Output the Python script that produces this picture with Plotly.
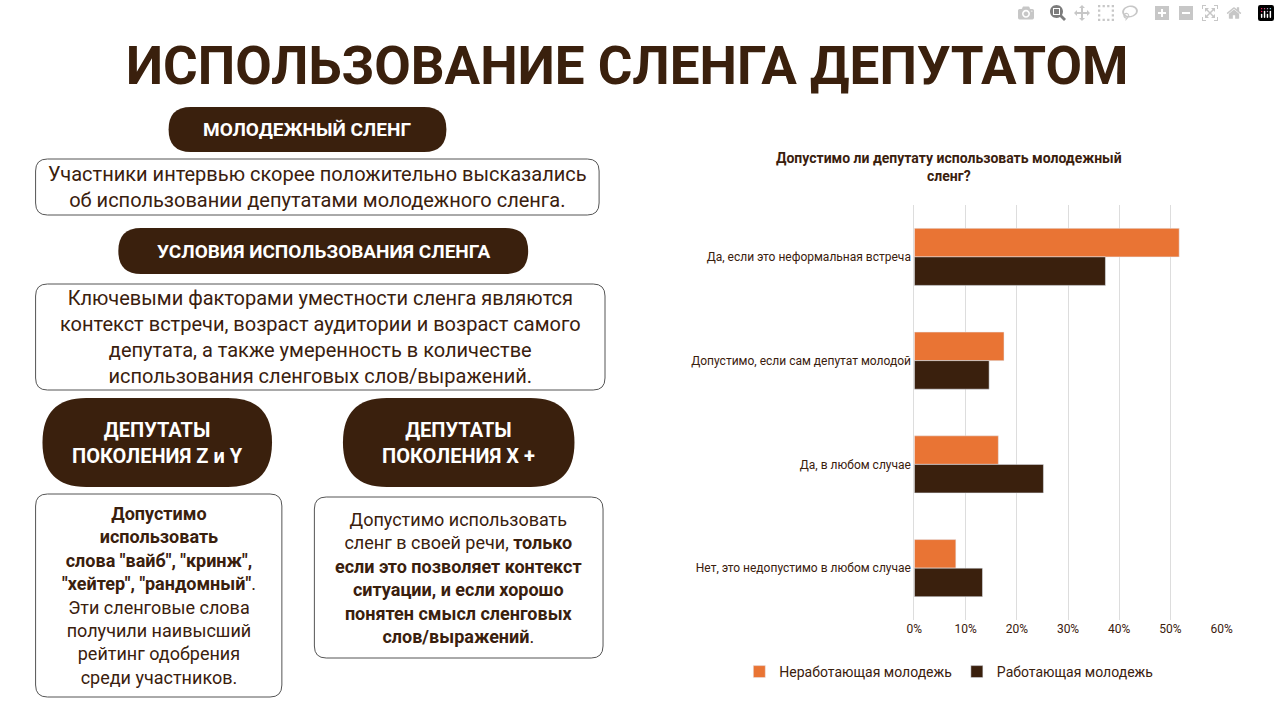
import plotly.graph_objects as go

categories = ["Да, если это неформальная встреча", "Допустимо, если сам депутат молодой",
              "Да, в любом случае", "Нет, это недопустимо в любом случае"]
nonworking = [51.7, 17.5, 16.4, 8.1]
working = [37.3, 14.6, 25.2, 13.3]
series_names = ["Неработающая молодежь", "Работающая молодежь"]
tick_vals = [0, 10, 20, 30, 40, 50, 60]
tick_text = ["0%", "10%", "20%", "30%", "40%", "50%", "60%"]

W, H = 1280, 720
DARK = "#3a200d"
ORANGE = "#e97434"
FONT = "Roboto"

def px(x): return x / W
def py(y): return 1 - y / H

def rrect(x0, y0, x1, y1, r):
    pts = [
        f"M {px(x0+r)},{py(y0)}", f"L {px(x1-r)},{py(y0)}", f"Q {px(x1)},{py(y0)} {px(x1)},{py(y0+r)}",
        f"L {px(x1)},{py(y1-r)}", f"Q {px(x1)},{py(y1)} {px(x1-r)},{py(y1)}",
        f"L {px(x0+r)},{py(y1)}", f"Q {px(x0)},{py(y1)} {px(x0)},{py(y1-r)}",
        f"L {px(x0)},{py(y0+r)}", f"Q {px(x0)},{py(y0)} {px(x0+r)},{py(y0)}", "Z"]
    return " ".join(pts)

fig = go.Figure()
fig.add_trace(go.Bar(y=categories, x=nonworking, orientation="h", name=series_names[0], marker_color=ORANGE))
fig.add_trace(go.Bar(y=categories, x=working, orientation="h", name=series_names[1], marker_color=DARK))

shapes = []
annotations = []

def label(x, y, text, size, color, **kw):
    annotations.append(dict(x=px(x), y=py(y), xref="paper", yref="paper", xanchor="center", yanchor="middle",
                            text=text, showarrow=False, font=dict(family=FONT, size=size, color=color),
                            align="center", **kw))

def pill(x0, y0, x1, y1, text, size=19):
    r = min((y1 - y0) / 2, (x1 - x0) / 2)
    shapes.append(dict(type="path", path=rrect(x0, y0, x1, y1, r), xref="paper", yref="paper",
                       fillcolor=DARK, line=dict(width=0), layer="below"))
    label((x0 + x1) / 2, (y0 + y1) / 2, text, size, "white")

def box(x0, y0, x1, y1, text, size=19):
    shapes.append(dict(type="path", path=rrect(x0, y0, x1, y1, 12), xref="paper", yref="paper",
                       fillcolor="white", line=dict(color="#555555", width=1), layer="below"))
    label((x0 + x1) / 2, (y0 + y1) / 2, text, size, DARK)

pill(163, 107, 445, 152, "<b>МОЛОДЕЖНЫЙ СЛЕНГ</b>", 19)
box(28, 159, 600, 215, "Участники интервью скорее положительно высказались<br>об использовании депутатами молодежного сленга.", 20)
pill(112, 228, 528, 274, "<b>УСЛОВИЯ ИСПОЛЬЗОВАНИЯ СЛЕНГА</b>", 19)
box(28, 284, 606, 390, "Ключевыми факторами уместности сленга являются<br>контекст встречи, возраст аудитории и возраст самого<br>депутата, а также умеренность в количестве<br>использования сленговых слов/выражений.", 20)
pill(35, 398, 268, 487, "<b>ДЕПУТАТЫ</b><br><b>ПОКОЛЕНИЯ Z и Y</b>", 20)
pill(340, 398, 575, 487, "<b>ДЕПУТАТЫ</b><br><b>ПОКОЛЕНИЯ X +</b>", 20)
box(28, 494, 278, 697, "<b>Допустимо</b><br><b>использовать</b><br><b>слова \"вайб\", \"кринж\",</b><br><b>\"хейтер\", \"рандомный\"</b>.<br>Эти сленговые слова<br>получили наивысший<br>рейтинг одобрения<br>среди участников.", 18)
box(311, 497, 604, 658, "Допустимо использовать<br>сленг в своей речи, <b>только</b><br><b>если это позволяет контекст</b><br><b>ситуации, и если хорошо</b><br><b>понятен смысл сленговых</b><br><b>слов/выражений</b>.", 18)

label(628, 66, "<b>ИСПОЛЬЗОВАНИЕ СЛЕНГА ДЕПУТАТОМ</b>", 53, DARK)
label(955, 167, "<b>Допустимо ли депутату использовать молодежный<br>сленг?</b>", 14, DARK)

fig.update_layout(
    width=W, height=H, margin=dict(l=0, r=0, t=0, b=0),
    paper_bgcolor="white", plot_bgcolor="white",
    barmode="group", bargap=0.45, bargroupgap=0,
    shapes=shapes, annotations=annotations,
    font=dict(family=FONT, color=DARK),
    xaxis=dict(domain=[px(920), px(1232)], range=[0, 60], tickvals=tick_vals, ticktext=tick_text,
               showgrid=True, gridcolor="#dddddd", zeroline=False, tickfont=dict(size=12, color=DARK),
               ticks="", anchor="y"),
    yaxis=dict(domain=[py(620), py(205)], autorange="reversed", categoryorder="array", categoryarray=categories,
               tickfont=dict(size=12, color=DARK), ticks="", showline=True, linecolor="#dddddd"),
    legend=dict(orientation="h", x=px(955), xanchor="center", y=py(672), yanchor="middle",
                font=dict(size=14, color=DARK)),
)
fig.write_html("out.html", post_script="document.body.style.margin='0';")
